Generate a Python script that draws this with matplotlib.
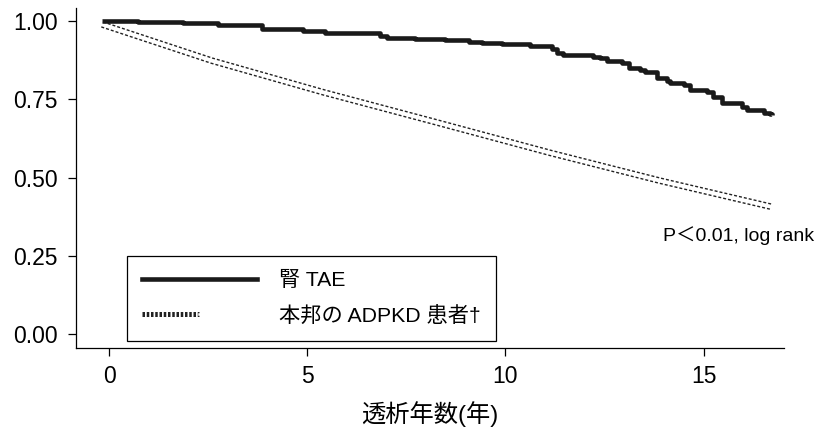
import matplotlib
matplotlib.use("Agg")
import matplotlib.pyplot as plt
from matplotlib.lines import Line2D
from matplotlib.legend_handler import HandlerTuple

plt.rcParams['font.family'] = ['Liberation Sans', 'Noto Sans CJK JP']

# Kaplan-Meier curve, renal TAE (step times in years, survival)
tae_years = [-0.18, 0.72, 1.86, 2.74, 3.86, 4.89, 5.45, 5.66, 6.84, 7.0,
             7.72, 8.48, 9.07, 9.4, 9.91, 10.62, 11.18, 11.3, 11.46, 12.22,
             12.39, 12.56, 12.94, 13.11, 13.4, 13.53, 13.82, 14.08, 14.16, 14.5,
             14.66, 15.09, 15.25, 15.46, 15.97, 16.1, 16.52, 16.68, 16.74]
tae_surv = [1.000, 0.998, 0.994, 0.987, 0.975, 0.969, 0.964, 0.961, 0.953, 0.948,
            0.943, 0.939, 0.934, 0.931, 0.926, 0.922, 0.910, 0.900, 0.891, 0.886,
            0.881, 0.873, 0.865, 0.852, 0.844, 0.838, 0.817, 0.810, 0.803, 0.796,
            0.780, 0.774, 0.758, 0.737, 0.727, 0.716, 0.707, 0.703, 0.700]

# Japanese ADPKD dialysis patients (reference curve)
ref_years = [-0.18, 2.59, 5.4, 8.22, 11.13, 13.9, 16.73]
ref_surv = [0.99, 0.874, 0.773, 0.678, 0.579, 0.49, 0.406]

x_ticks = [0, 5, 10, 15]
y_ticks = [0.0, 0.25, 0.5, 0.75, 1.0]
labels = ['腎 TAE', '本邦の ADPKD 患者†']

fig = plt.figure(figsize=(8.17, 4.3), dpi=100)
ax = fig.add_axes([0.093, 0.191, 0.867, 0.790])

ax.plot(tae_years, tae_surv, drawstyle='steps-post', color='#1a1a1a',
        lw=3.3, solid_capstyle='butt', zorder=3)

# double dotted line: dotted wide stroke with a white core
ax.plot(ref_years, ref_surv, color='#222222', lw=4.8,
        linestyle=(0, (0.45, 0.3)), dash_capstyle='butt', zorder=2)
ax.plot(ref_years, ref_surv, color='white', lw=2.8, zorder=2)

ax.set_xlim(-0.84, 17.04)
ax.set_ylim(-0.045, 1.042)
ax.set_xticks(x_ticks)
ax.set_yticks(y_ticks)
ax.set_yticklabels([f'{v:.2f}' for v in y_ticks])
ax.tick_params(labelsize=16.5, length=6, width=0.9, pad=6)
ax.tick_params(axis='y', pad=7)
for side in ['top', 'right']:
    ax.spines[side].set_visible(False)
for side in ['left', 'bottom']:
    ax.spines[side].set_linewidth(0.9)

ax.set_xlabel('透析年数(年)', fontsize=17.5, labelpad=10)

ax.text(17.8, 0.296, 'P＜0.01, log rank', fontsize=14, ha='right',
        va='baseline', clip_on=False)

h1 = Line2D([], [], color='#1a1a1a', lw=3.3)
h2a = Line2D([], [], color='#222222', lw=3.6, linestyle=(0, (0.5, 0.35)),
             dash_capstyle='butt')
h2b = Line2D([], [], color='white', lw=1.8)
leg = ax.legend([h1, (h2a, h2b)], labels, loc='upper left',
                bbox_to_anchor=(0.44, 0.25), bbox_transform=ax.transData,
                borderaxespad=0, fontsize=15.3, handlelength=5.4,
                handletextpad=1.05, borderpad=0.72, labelspacing=0.72,
                fancybox=False, framealpha=1, edgecolor='black',
                handler_map={tuple: HandlerTuple(ndivide=None, pad=0)})
leg.get_frame().set_linewidth(0.9)

fig.savefig('out.png', dpi=100)
